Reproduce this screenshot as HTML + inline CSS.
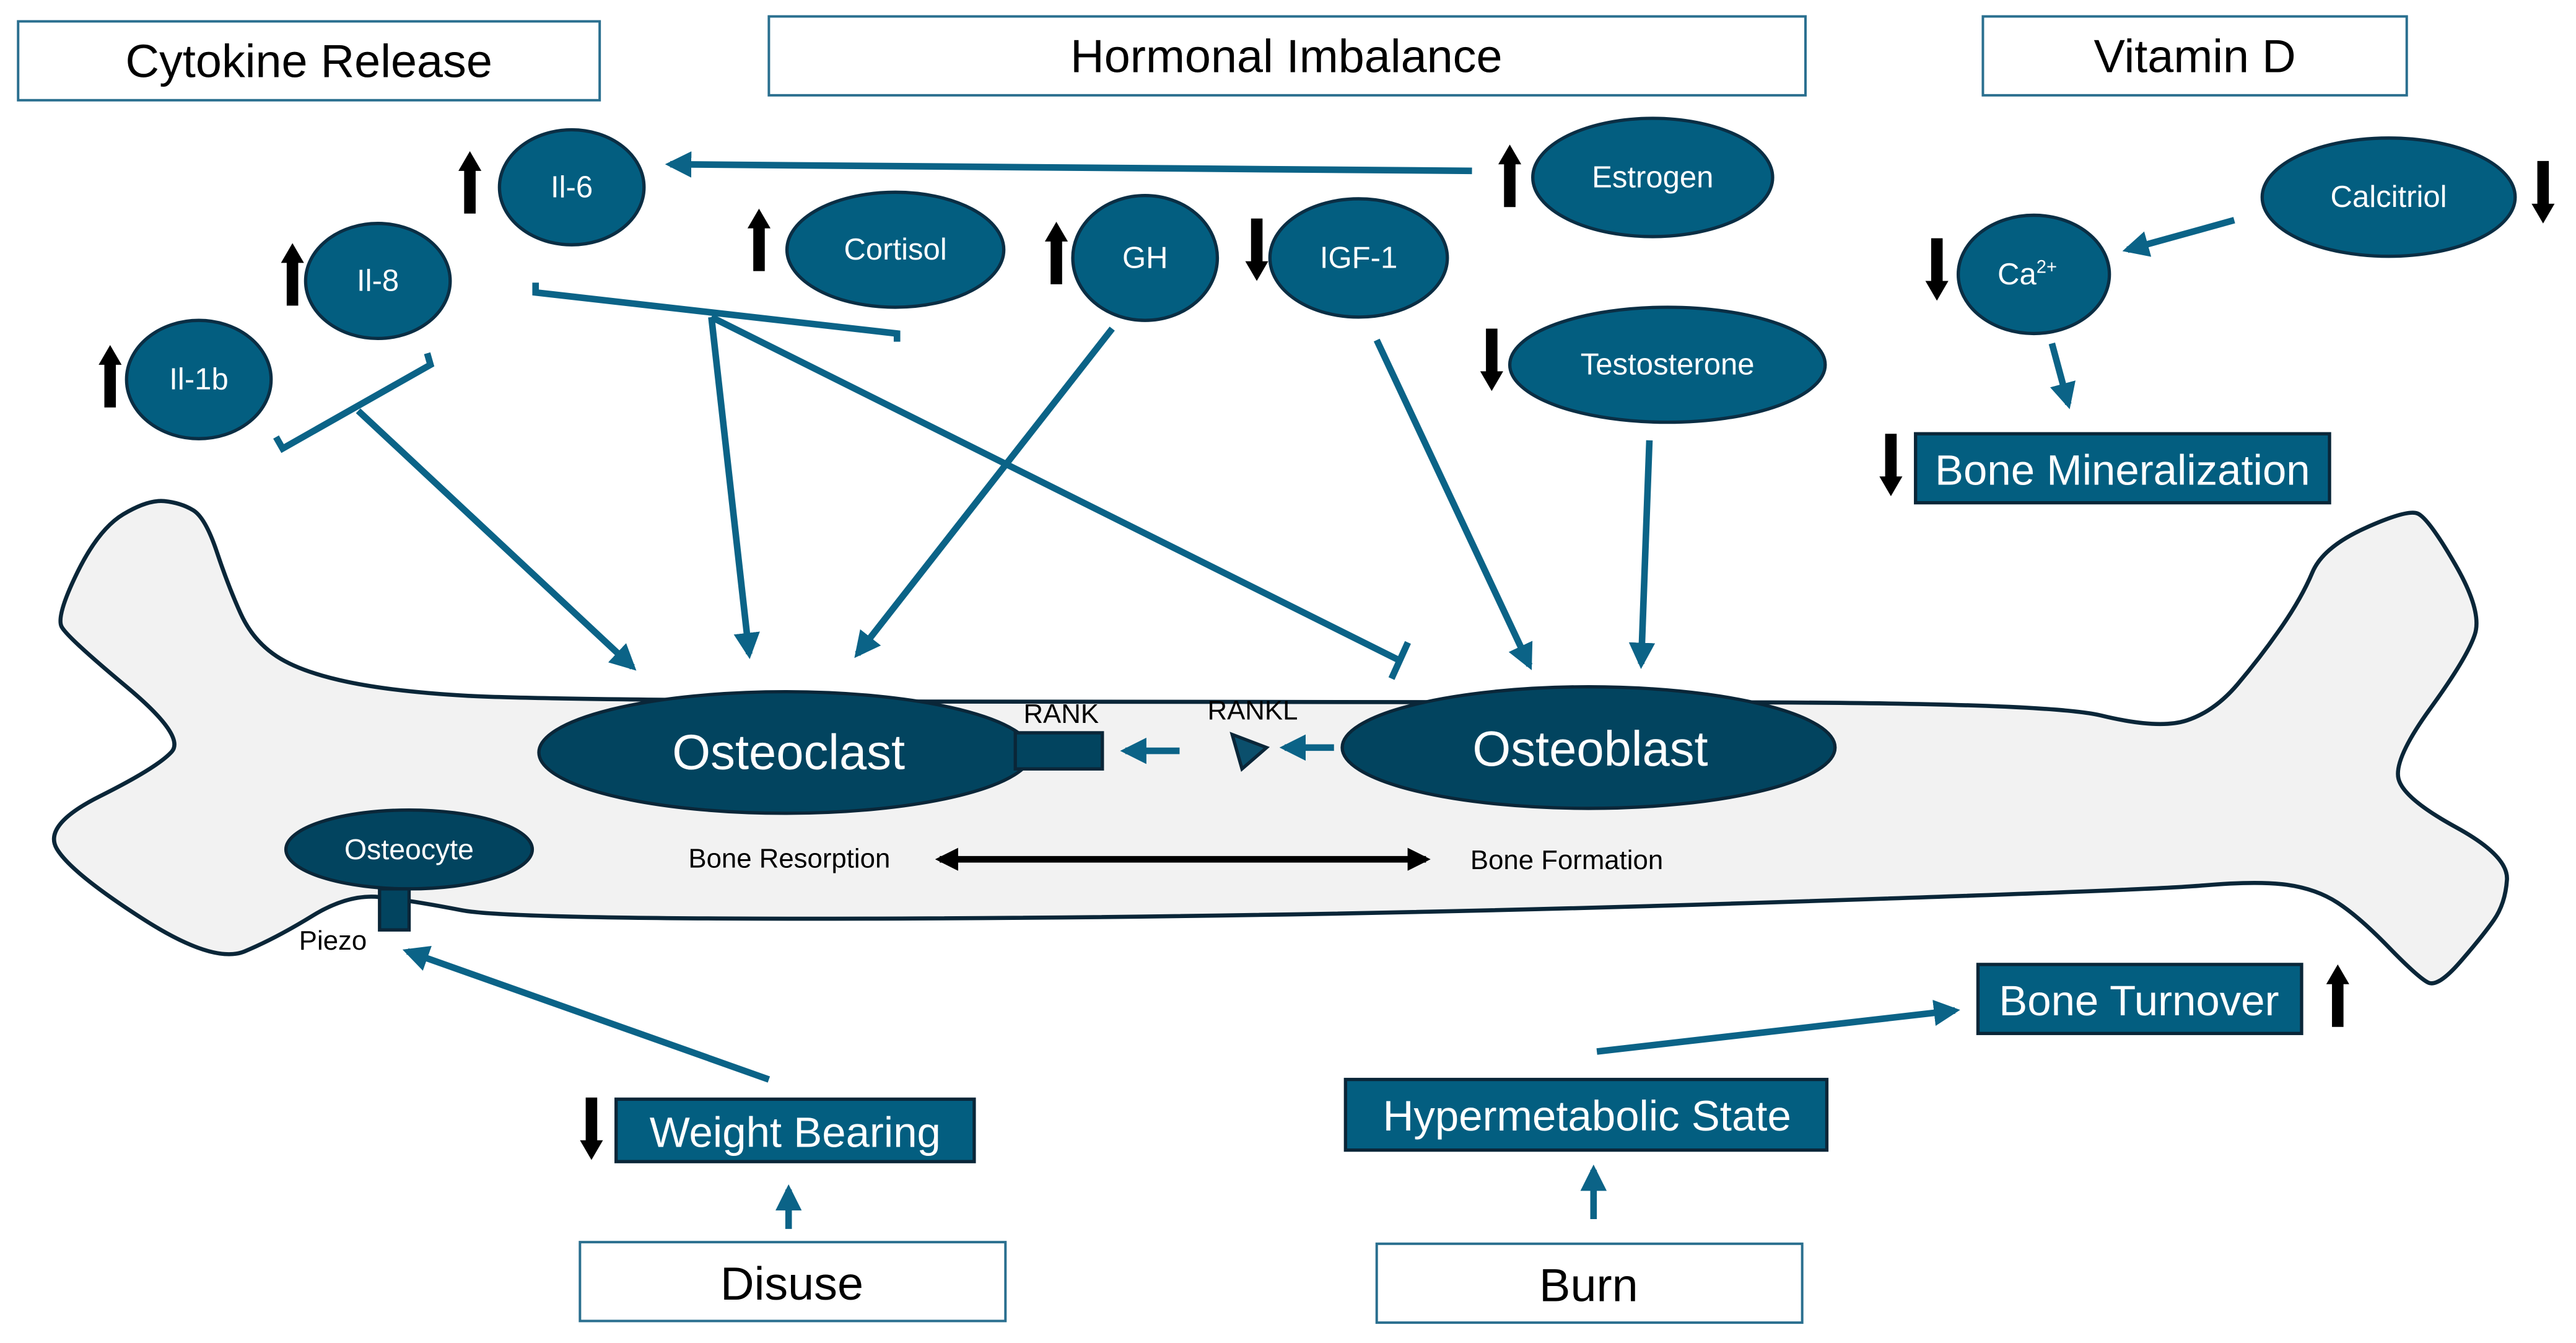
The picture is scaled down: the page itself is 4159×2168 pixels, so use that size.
<!DOCTYPE html>
<html><head><meta charset="utf-8"><style>
html,body{margin:0;padding:0;background:#fff}
svg{display:block}
text{font-family:"Liberation Sans",sans-serif}
</style></head><body>
<svg width="4159" height="2168" viewBox="0 0 1568 817.4" xmlns="http://www.w3.org/2000/svg">
<defs>
<marker id="a" viewBox="0 0 10 10" refX="8" refY="5" markerWidth="4" markerHeight="4" orient="auto" markerUnits="strokeWidth"><path d="M0,0L10,5L0,10z" fill="#0b6387"/></marker>
<marker id="bk" viewBox="0 0 10 10" refX="8" refY="5" markerWidth="3.5" markerHeight="3.5" orient="auto-start-reverse" markerUnits="strokeWidth"><path d="M0,0L10,5L0,10z" fill="#000"/></marker>
</defs>
<path d="M100,305 Q110,306 117.5,310.5 Q125,315 132,336 Q139,357 146.5,373.5 Q154,390 168.5,399.5 Q183,409 211.5,415 Q240,421 285,423.5 Q330,426 565,427 Q800,428 1022,427.5 Q1244,427 1279,435.5 Q1314,444 1331,438.5 Q1348,433 1362,416.5 Q1376,400 1388.5,382 Q1401,364 1407.5,348.5 Q1414,333 1439.5,321.5 Q1465,310 1471.5,312.5 Q1478,315 1494.5,343.5 Q1511,372 1506.5,386 Q1502,400 1479.5,431 Q1457,462 1460,474 Q1463,486 1495,503.5 Q1527,521 1526,535.5 Q1525,550 1518,560 Q1511,570 1497.5,585.5 Q1484,601 1478,598 Q1472,595 1454,576.5 Q1436,558 1423,549.5 Q1410,541 1392,538.5 Q1374,536 1340,539 Q1306,542 1053,550 Q800,558 556,559 Q312,560 281,554 Q250,548 231,546 Q212,544 190,557.5 Q168,571 149,579 Q130,587 86.5,559 Q43,531 34.5,516.5 Q26,502 61,484.5 Q96,467 104.5,457.5 Q113,448 77,418 Q41,388 37.5,381.5 Q34,375 47,348.5 Q60,322 75,313 Q90,304 100,305 Z" fill="#f2f2f2" stroke="#0a2638" stroke-width="2.5"/>

<g fill="#fff" stroke="#2a6f8f" stroke-width="1.5">
<rect x="11" y="13" width="354" height="48"/>
<rect x="468" y="10" width="631" height="48"/>
<rect x="1207" y="10" width="258" height="48"/>
<rect x="353" y="756" width="259" height="48"/>
<rect x="838" y="757" width="259" height="48"/>
</g>
<g font-size="28.5" text-anchor="middle" fill="#000">
<text x="188" y="47">Cytokine Release</text>
<text x="783" y="44">Hormonal Imbalance</text>
<text x="1336" y="44">Vitamin D</text>
<text x="482" y="791">Disuse</text>
<text x="967" y="792">Burn</text>
</g>

<g stroke="#0b6387" stroke-width="4" fill="none">
<line x1="896" y1="104" x2="408" y2="100" marker-end="url(#a)"/>
<polyline points="326,172 326,178 546,203 546,208"/>
<line x1="433" y1="193" x2="456" y2="398" marker-end="url(#a)"/>
<line x1="433" y1="193" x2="852" y2="402"/>
<line x1="857" y1="391" x2="847" y2="413"/>
<polyline points="168,266 172,273 262,222 260,215"/>
<line x1="218" y1="250" x2="385" y2="406" marker-end="url(#a)"/>
<line x1="677" y1="200" x2="522" y2="398" marker-end="url(#a)"/>
<line x1="838" y1="207" x2="931" y2="405" marker-end="url(#a)"/>
<line x1="1004" y1="268" x2="999" y2="404" marker-end="url(#a)"/>
<line x1="1360" y1="134" x2="1295" y2="152" marker-end="url(#a)"/>
<line x1="1249" y1="209" x2="1259" y2="246" marker-end="url(#a)"/>
<line x1="812" y1="455" x2="782" y2="455" marker-end="url(#a)"/>
<line x1="718" y1="457" x2="685" y2="457" marker-end="url(#a)"/>
<line x1="468" y1="657" x2="248" y2="579" marker-end="url(#a)"/>
<line x1="480" y1="748" x2="480" y2="724" marker-end="url(#a)"/>
<line x1="970" y1="742" x2="970" y2="712" marker-end="url(#a)"/>
<line x1="972" y1="640" x2="1190" y2="615" marker-end="url(#a)"/>
</g>
<line x1="572" y1="523" x2="868" y2="523" stroke="#000" stroke-width="4" marker-start="url(#bk)" marker-end="url(#bk)"/>

<g fill="#035e80" stroke="#0a2e44" stroke-width="2">
<ellipse cx="348" cy="114" rx="44" ry="35"/>
<ellipse cx="230" cy="171" rx="44" ry="35"/>
<ellipse cx="121" cy="231" rx="44" ry="36"/>
<ellipse cx="545" cy="152" rx="66" ry="35"/>
<ellipse cx="697" cy="157" rx="44" ry="38"/>
<ellipse cx="827" cy="157" rx="54" ry="36"/>
<ellipse cx="1006" cy="108" rx="73" ry="36"/>
<ellipse cx="1015" cy="222" rx="96" ry="35"/>
<ellipse cx="1454" cy="120" rx="77" ry="36"/>
<ellipse cx="1238" cy="167" rx="46" ry="36"/>
</g>
<g fill="#02445f" stroke="#0a2638" stroke-width="2">
<ellipse cx="478" cy="458" rx="150" ry="37"/>
<ellipse cx="967" cy="455" rx="150" ry="37"/>
<ellipse cx="249" cy="517" rx="75" ry="24"/>
<rect x="618" y="446" width="53" height="22"/>
<rect x="231" y="541" width="18" height="25"/>
<path d="M750,447 L771,455 L756,468Z" fill="#0b4f6c"/>
</g>
<g fill="#fff" font-size="18.5" text-anchor="middle">
<text x="348" y="120">Il-6</text>
<text x="230" y="177">Il-8</text>
<text x="121" y="237">Il-1b</text>
<text x="545" y="158">Cortisol</text>
<text x="697" y="163">GH</text>
<text x="827" y="163">IGF-1</text>
<text x="1006" y="114">Estrogen</text>
<text x="1015" y="228">Testosterone</text>
<text x="1454" y="126">Calcitriol</text>
<text x="1234" y="173">Ca<tspan font-size="11" dy="-7">2+</tspan></text>
<text x="249" y="523" font-size="17.5">Osteocyte</text>
<text x="480" y="468" font-size="30">Osteoclast</text>
<text x="968" y="466" font-size="30">Osteoblast</text>
</g>
<g font-size="16.5" fill="#000">
<text x="623" y="440">RANK</text>
<text x="735" y="438">RANKL</text>
<text x="419" y="528">Bone Resorption</text>
<text x="895" y="529">Bone Formation</text>
<text x="182" y="578">Piezo</text>
</g>

<g fill="#035e80" stroke="#0a2638" stroke-width="2">
<rect x="1166" y="264" width="252" height="42"/>
<rect x="1204" y="587" width="197" height="42"/>
<rect x="375" y="669" width="218" height="38"/>
<rect x="819" y="657" width="293" height="43"/>
</g>
<g fill="#fff" font-size="26" text-anchor="middle">
<text x="1292" y="295">Bone Mineralization</text>
<text x="1302" y="618">Bone Turnover</text>
<text x="484" y="698">Weight Bearing</text>
<text x="966" y="688">Hypermetabolic State</text>
</g>

<g fill="#000">
<path id="up" d="M-3.5,38 L-3.5,12 L-7,12 L0,0 L7,12 L3.5,12 L3.5,38Z" transform="translate(286,92)"/>
<use href="#up" transform="translate(-108,56)"/>
<use href="#up" transform="translate(-219,118)"/>
<use href="#up" transform="translate(176,35)"/>
<use href="#up" transform="translate(357,43)"/>
<use href="#up" transform="translate(633,-4)"/>
<use href="#up" transform="translate(1137,495)"/>
<path id="dn" d="M-3.5,0 L-3.5,26 L-7,26 L0,38 L7,26 L3.5,26 L3.5,0Z" transform="translate(765,133)"/>
<use href="#dn" transform="translate(143,67)"/>
<use href="#dn" transform="translate(783,-35)"/>
<use href="#dn" transform="translate(414,12)"/>
<use href="#dn" transform="translate(386,131)"/>
<use href="#dn" transform="translate(-405,535)"/>
</g>
</svg>
</body></html>
